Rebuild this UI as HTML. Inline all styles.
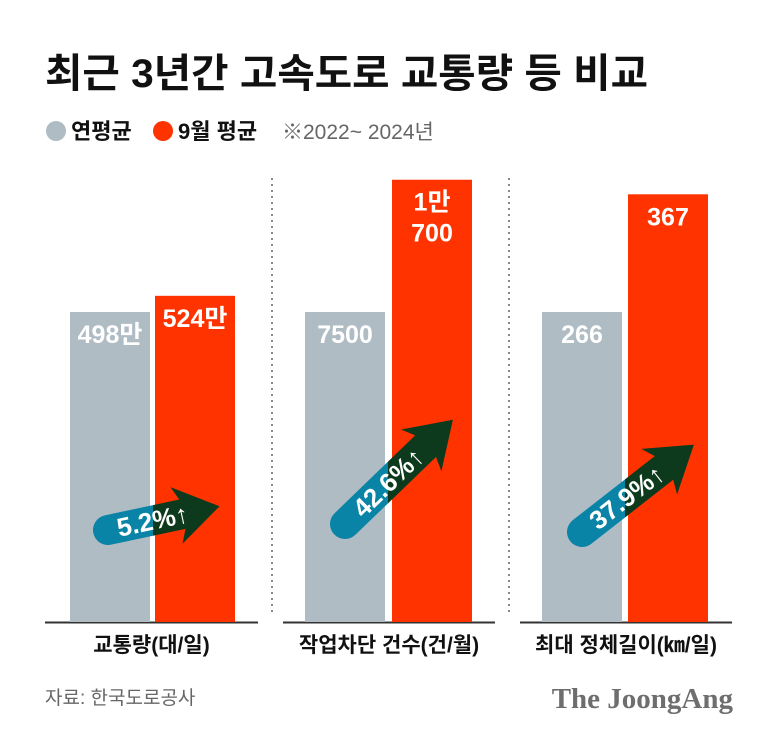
<!DOCTYPE html>
<html><head><meta charset="utf-8"><style>
body{margin:0;background:#fff;width:780px;height:744px;overflow:hidden}
svg{display:block}
text{font-family:"Liberation Sans","Noto Sans CJK KR",sans-serif}
</style></head><body>
<svg id="c" width="780" height="744" viewBox="0 0 780 744">
<text x="45" y="87" font-size="40" font-weight="bold" fill="#111" textLength="603" lengthAdjust="spacingAndGlyphs">최근 3년간 고속도로 교통량 등 비교</text>
<g>
<circle cx="56" cy="131" r="10" fill="#b0bcc4"/>
<text x="71" y="139" font-size="22" font-weight="bold" fill="#111">연평균</text>
<circle cx="163" cy="131" r="10" fill="#ff3300"/>
<text x="178" y="139" font-size="22" font-weight="bold" fill="#111">9월 평균</text>
<text x="282" y="139" font-size="21" fill="#666">※2022~ 2024년</text>
</g>
<g id="panels"></g>
<text x="45" y="704" font-size="19" fill="#666">자료: 한국도로공사</text>
<text x="733" y="708" text-anchor="end" font-size="29" font-weight="bold" fill="#6e6e6e" style="font-family:'Liberation Serif',serif">The JoongAng</text>
</svg>
<script>
const categories=["교통량(대/일)","작업차단 건수(건/월)","최대 정체길이(㎞/일)"];
const annualValues=[498,7500,266];
const septValues=[524,10700,367];
const annualLabels=["498만","7500","266"];
const septLabels=[["524만"],["1만","700"],["367"]];
const changeLabels=["5.2%↑","42.6%↑","37.9%↑"];
const NS="http://www.w3.org/2000/svg";
const g=document.getElementById('panels');
function el(t,a,p){const e=document.createElementNS(NS,t);for(const k in a)e.setAttribute(k,a[k]);(p||g).appendChild(e);return e;}
const baseY=622, annualH=310;
const panelX=[[45,258],[283,495],[520,732]];
const grayX=[70,305,542], redX=[155,392,628], bw=80;
const arrows=[{x:108,y:530,len:114,ang:-12},{x:345,y:524,len:150,ang:-44},{x:582,y:532,len:142,ang:-38}];
function scaleY(v,i){return baseY-v/annualValues[i]*annualH;}
const defs=el('defs',{}, document.getElementById('c'));
for(let i=0;i<3;i++){
  const l=el('line',{x1:panelX[i][0],x2:panelX[i][1],y1:baseY+0.5,y2:baseY+0.5,stroke:'#333','stroke-width':2});
  
  
  if(i>0){const d=el('line',{x1:panelX[i][0]-11,x2:panelX[i][0]-11,y1:178,y2:612,stroke:'#888','stroke-width':2,'stroke-dasharray':'2 4'});
    
    }
  const ya=scaleY(annualValues[i],i);
  const b1=el('rect',{x:grayX[i],y:ya,width:bw,height:baseY-ya,fill:'#b0bcc4'});
  
  
  const ys=scaleY(septValues[i],i);
  const b2=el('rect',{x:redX[i],y:ys,width:bw,height:baseY-ys,fill:'#ff3300'});
  
  
  const t1=el('text',{x:grayX[i]+bw/2,y:ya+31,'text-anchor':'middle','font-size':25,'font-weight':'bold',fill:'#fff'});
  t1.textContent=annualLabels[i];
  
  
  septLabels[i].forEach((s,j)=>{const t=el('text',{x:redX[i]+bw/2,y:ys+31+j*31,'text-anchor':'middle','font-size':25,'font-weight':'bold',fill:'#fff'});
    t.textContent=s;
    
    });
  const c=el('text',{x:(panelX[i][0]+panelX[i][1])/2,y:652,'text-anchor':'middle','font-size':21,'font-weight':'bold',fill:'#111'});
  c.textContent=categories[i];
  
  
  const a=arrows[i], L=a.len;
  const d=`M0,-15 L${L-38},-15 L${L-44},-29 L${L},0 L${L-44},29 L${L-38},15 L0,15 A15,15 0 0 1 0,-15 Z`;
  const cpB=el('clipPath',{id:'cb'+i},defs); el('rect',{x:0,y:0,width:grayX[i]+bw+3,height:744},cpB);
  const cpD=el('clipPath',{id:'cd'+i},defs); el('rect',{x:grayX[i]+bw+3,y:0,width:780,height:744},cpD);
  const ag=el('g',{});
  
  
  const gb=el('g',{'clip-path':`url(#cb${i})`},ag);
  el('path',{d:d,fill:'#0a84a6',transform:`translate(${a.x},${a.y}) rotate(${a.ang})`},gb);
  const gd=el('g',{'clip-path':`url(#cd${i})`},ag);
  el('path',{d:d,fill:'#0d3a1c',transform:`translate(${a.x},${a.y}) rotate(${a.ang})`},gd);
  const t=el('text',{x:L*0.4,y:9,'text-anchor':'middle','font-size':26,'font-weight':'bold',fill:'#fff',transform:`translate(${a.x},${a.y}) rotate(${a.ang})`},ag);
  t.textContent=changeLabels[i];
  
  
}
</script>
</body></html>
